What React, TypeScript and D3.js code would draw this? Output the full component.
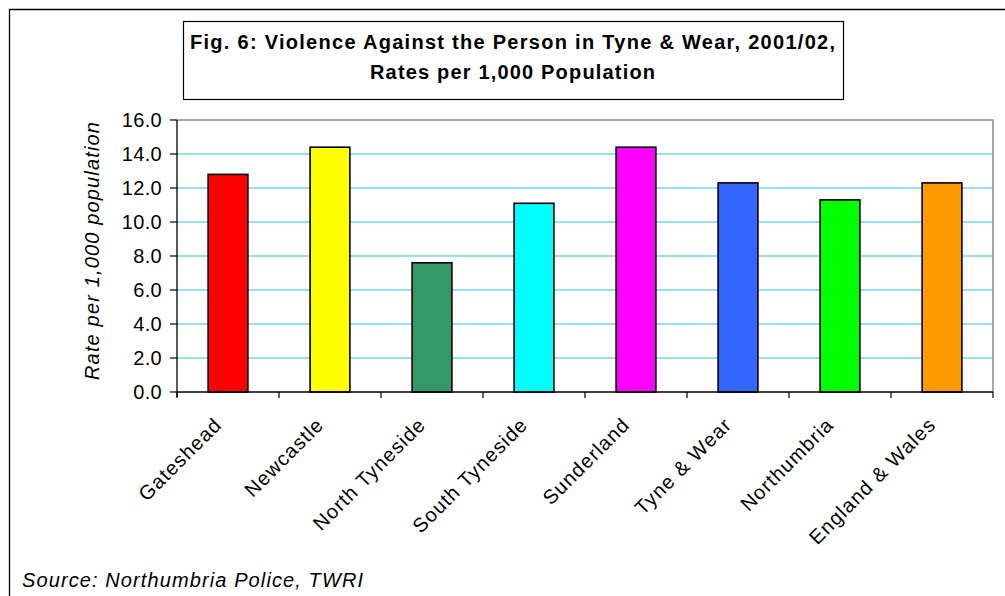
import React from "react";
import * as d3 from "d3";

// Violence against the person, rates per 1,000 population, 2001/02
const areas = [
  "Gateshead",
  "Newcastle",
  "North Tyneside",
  "South Tyneside",
  "Sunderland",
  "Tyne & Wear",
  "Northumbria",
  "England & Wales",
];
const rates = [12.8, 14.4, 7.6, 11.1, 14.4, 12.3, 11.3, 12.3];
const barColors = [
  "#FF0000",
  "#FFFF00",
  "#339966",
  "#00FFFF",
  "#FF00FF",
  "#3366FF",
  "#00FF00",
  "#FF9900",
];
const yTicks = [0, 2, 4, 6, 8, 10, 12, 14, 16];

const titleLines = [
  "Fig. 6: Violence Against the Person in Tyne & Wear, 2001/02,",
  "Rates per 1,000 Population",
];
const yAxisTitle = "Rate per 1,000 population";
const sourceNote = "Source: Northumbria Police, TWRI";

const W = 1005;
const H = 596;
const plot = { left: 177, right: 993, top: 120, bottom: 392 };
const FONT = '"Liberation Sans", Arial, sans-serif';

export default function App() {
  const x = d3
    .scaleBand<string>()
    .domain(areas)
    .range([plot.left, plot.right])
    .padding(0);
  const y = d3.scaleLinear().domain([0, 16]).range([plot.bottom, plot.top]);
  const barW = x.bandwidth() * 0.39;
  const boundaries = [...areas.map((a) => x(a) as number), plot.right];

  return (
    <svg
      width={W}
      height={H}
      style={{ position: "absolute", left: 0, top: 0, background: "#fff" }}
      fontFamily={FONT}
    >
      <rect x={0} y={0} width={W} height={H} fill="#fff" />
      {/* chart frame (top and left edges) */}
      <path
        d={`M9.5,${H} V9.5 H${W}`}
        fill="none"
        stroke="#000"
        strokeWidth={1.3}
      />

      {/* title box */}
      <rect
        x={183.5}
        y={21.5}
        width={660}
        height={78}
        fill="#fff"
        stroke="#000"
        strokeWidth={1.2}
      />
      <text
        x={512.5}
        y={49}
        textAnchor="middle"
        fontSize={20}
        fontWeight="bold"
        textLength={645}
        lengthAdjust="spacing"
      >
        {titleLines[0]}
      </text>
      <text
        x={512.5}
        y={79}
        textAnchor="middle"
        fontSize={20}
        fontWeight="bold"
        textLength={285}
        lengthAdjust="spacing"
      >
        {titleLines[1]}
      </text>

      {/* gridlines */}
      {yTicks.slice(1, -1).map((t) => (
        <line
          key={`g${t}`}
          x1={plot.left}
          x2={plot.right}
          y1={y(t)}
          y2={y(t)}
          stroke="#33c3e8"
          strokeWidth={1.2}
        />
      ))}
      {/* plot area border: top and right in grey */}
      <path
        d={`M${plot.left},${plot.top} H${plot.right} V${plot.bottom}`}
        fill="none"
        stroke="#8a8a8a"
        strokeWidth={1.5}
      />

      {/* bars */}
      {areas.map((a, i) => {
        const cx = (x(a) as number) + x.bandwidth() / 2;
        return (
          <rect
            key={a}
            x={cx - barW / 2}
            y={y(rates[i])}
            width={barW}
            height={y(0) - y(rates[i])}
            fill={barColors[i]}
            stroke="#000"
            strokeWidth={1.6}
          />
        );
      })}

      {/* y axis */}
      <line
        x1={plot.left}
        x2={plot.left}
        y1={plot.top}
        y2={plot.bottom + 5}
        stroke="#000"
        strokeWidth={1.3}
      />
      {yTicks.map((t) => (
        <g key={`y${t}`}>
          <line
            x1={plot.left - 7}
            x2={plot.left}
            y1={y(t)}
            y2={y(t)}
            stroke="#000"
            strokeWidth={1.2}
          />
          <text
            x={162}
            y={y(t)}
            dy="0.36em"
            textAnchor="end"
            fontSize={20}
            letterSpacing={0.3}
            fill="#000"
          >
            {d3.format(".1f")(t)}
          </text>
        </g>
      ))}

      {/* x axis */}
      <line
        x1={plot.left}
        x2={plot.right}
        y1={plot.bottom}
        y2={plot.bottom}
        stroke="#000"
        strokeWidth={1.3}
      />
      {boundaries.map((bx, i) => (
        <line
          key={`xt${i}`}
          x1={bx}
          x2={bx}
          y1={plot.bottom}
          y2={plot.bottom + 6}
          stroke="#000"
          strokeWidth={1.2}
        />
      ))}
      {areas.map((a) => {
        const cx = (x(a) as number) + x.bandwidth() / 2;
        return (
          <text
            key={`xl${a}`}
            transform={`translate(${cx - 5},${426}) rotate(-45)`}
            textAnchor="end"
            fontSize={20}
            letterSpacing={1.1}
            fill="#000"
          >
            {a}
          </text>
        );
      })}

      {/* y axis title */}
      <text
        transform={`translate(99,251) rotate(-90)`}
        textAnchor="middle"
        fontSize={20}
        fontStyle="italic"
        textLength={258}
        lengthAdjust="spacing"
      >
        {yAxisTitle}
      </text>

      {/* source note */}
      <text
        x={22}
        y={587}
        fontSize={20}
        fontStyle="italic"
        textLength={341}
        lengthAdjust="spacing"
      >
        {sourceNote}
      </text>
    </svg>
  );
}
